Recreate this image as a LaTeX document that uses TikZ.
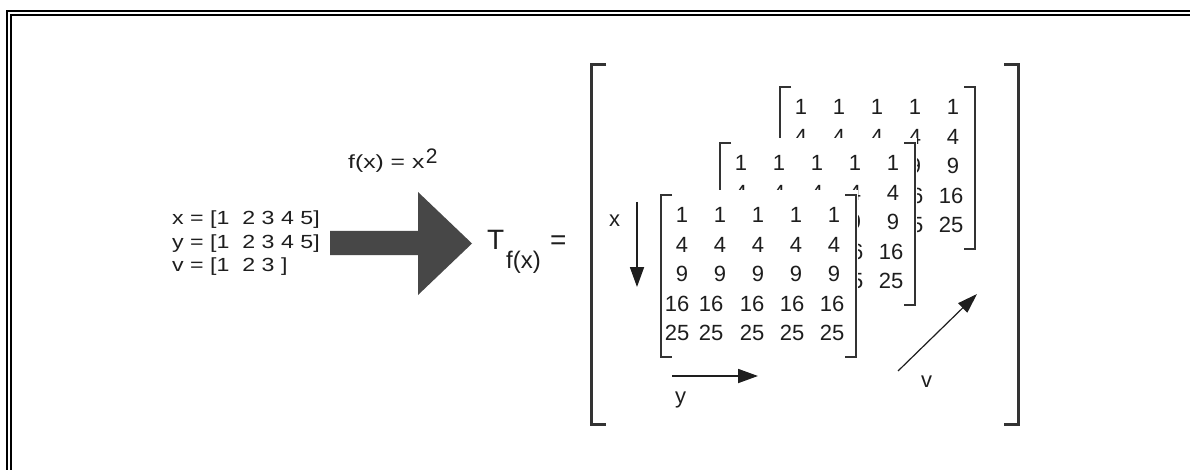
\documentclass[tikz,border=0pt]{standalone}
\usepackage{fontspec}
\setmainfont{Liberation Sans}
\newfontfamily\widefont[FakeStretch=1.22]{Liberation Sans}
\newfontfamily\widerfont[FakeStretch=1.3]{Liberation Sans}
\usetikzlibrary{arrows.meta}
\definecolor{arrowgray}{HTML}{474747}
\definecolor{ink}{HTML}{1E1E1E}
\definecolor{brkgray}{HTML}{333333}
\newcommand{\fs}[1]{\fontsize{#1}{#1}\selectfont}
\newcommand{\mymatrix}[3]{%
  \fill[white] ({#2-3},{#3-5}) rectangle ({#2+197},{#3+166});
  \draw[matbrk] ({#2+11},{#3}) -- ({#2},{#3}) -- ({#2},{#3+162}) -- ({#2+11},{#3+162});
  \draw[matbrk] ({#2+184},{#3}) -- ({#2+195},{#3}) -- ({#2+195},{#3+162}) -- ({#2+184},{#3+162});
  \foreach \v/\dy in {1/20,4/49.5,9/79}{
    \foreach \dx [count=\j] in {21,59,97,135,173}
      \node[num] (#1-\v-\j) at ({#2+\dx},{#3+\dy}) {\v};
  }
  \foreach \v/\dy in {16/108.5,25/138}{
    \foreach \dx [count=\j] in {16,50,91,131,171}
      \node[num] (#1-\v-\j) at ({#2+\dx},{#3+\dy}) {\v};
  }
}
\begin{document}
\begin{tikzpicture}[x=1pt,y=-1pt,
  num/.style={inner sep=0pt,text=ink,font=\fs{22}},
  matbrk/.style={draw=brkgray,line width=2.2pt},
  bigbrk/.style={draw=brkgray,line width=3pt},
  frameline/.style={draw=black,line width=2pt},
  axarrow/.style={draw=ink,line width=1.8pt,-{Triangle[length=20pt,width=14pt]}},
  varrow/.style={draw=ink,line width=1.2pt,-{Triangle[length=20pt,width=13pt]}},
  lbl/.style={inner sep=0pt,text=ink,anchor=base west},
]
\useasboundingbox (0,0) rectangle (1190,470);
\fill[white] (0,0) rectangle (1190,470);
% frame
\draw[frameline] (1190,11) -- (7,11) -- (7,470);
\draw[frameline] (1190,15) -- (11,15) -- (11,470);
% input vectors
\node[lbl,font=\widefont\fs{19}] (xv) at (172,224.5) {x = [1\ \ 2 3 4 5]};
\node[lbl,font=\widefont\fs{19}] (yv) at (172,248) {y = [1\ \ 2 3 4 5]};
\node[lbl,font=\widefont\fs{19}] (vv) at (172,271.5) {v = [1\ \ 2 3 ]};
% function label
\node[lbl,font=\widerfont\fs{19}] (fx) at (348,169) {f(x) = x};
\node[lbl,font=\fs{21}] (sq) at (fx.base east) [xshift=1pt,yshift=5pt] {2};
% big arrow
\fill[arrowgray] (330,231) -- (418,231) -- (418,192) -- (472,243.5) -- (418,295) -- (418,255) -- (330,255) -- cycle;
% T_f(x) =
\node[lbl,font=\fs{28}] (T) at (487,250) {T};
\node[lbl,font=\fs{24}] (Tsub) at (506,268) {f(x)};
\node[lbl,font=\fs{28}] (eq) at (550,249) {=};
% big brackets
\draw[bigbrk] (606,65) -- (591,65) -- (591,424) -- (606,424);
\draw[bigbrk] (1004,65) -- (1018,65) -- (1018,424) -- (1004,424);
% stacked matrices (back to front)
\mymatrix{mc}{780}{87}
\mymatrix{mb}{720}{143}
\mymatrix{ma}{661}{195}
% axis arrows
\coordinate (xs) at (637,202); \coordinate (xe) at (637,287);
\draw[axarrow] (xs) -- (xe);
\node[lbl,font=\fs{22}] (xl) at (609,227) {x};
\coordinate (ys) at (672,376); \coordinate (ye) at (758,376);
\draw[axarrow] (ys) -- (ye);
\node[lbl,font=\fs{22}] (yl) at (675,403) {y};
\coordinate (vs) at (898,371); \coordinate (ve) at (977,294);
\draw[varrow] (vs) -- (ve);
\node[lbl,font=\fs{22}] (vl) at (921,387) {v};
\end{tikzpicture}
\end{document}
